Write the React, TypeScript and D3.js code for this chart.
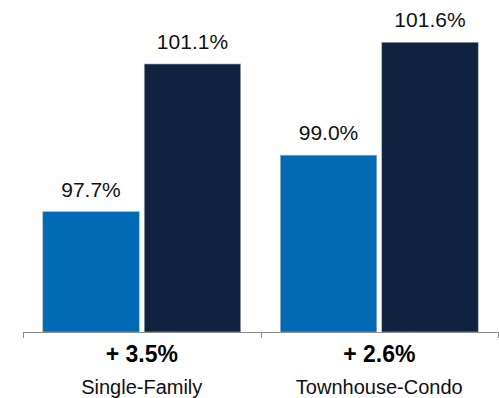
import React from "react";
import * as d3 from "d3";

const categories = ["Single-Family", "Townhouse-Condo"];
const series = ["prior", "current"];
const priorValues = [97.7, 99.0];
const currentValues = [101.1, 101.6];
const changeLabels = ["+ 3.5%", "+ 2.6%"];
const seriesColors = ["#006ab4", "#0f2340"];

const W = 499;
const H = 398;
const FONT = "'Liberation Sans', Arial, Helvetica, sans-serif";

export default function App() {
  const baseY = 332;
  const x0 = d3.scaleBand<string>().domain(categories).range([23, 498]).padding(0);
  const x1 = d3
    .scaleBand<string>()
    .domain(series)
    .range([0, x0.bandwidth()])
    .paddingInner(0.049)
    .paddingOuter(0.195);
  const y = d3.scaleLinear().domain([94.93, 102]).range([baseY, baseY - 7.07 * 43.44]);

  const rows = categories.map((c, i) => ({
    cat: c,
    vals: [priorValues[i], currentValues[i]],
    change: changeLabels[i],
  }));

  const fmt = (v: number) => d3.format(".1f")(v) + "%";

  return (
    <div style={{ position: "absolute", left: 0, top: 0, width: W, height: H, background: "#fff" }}>
      <svg width={W} height={H} style={{ display: "block" }} fontFamily={FONT}>
        {rows.map((r) => {
          const gx = x0(r.cat)!;
          return (
            <g key={r.cat}>
              {r.vals.map((v, j) => {
                const bx = gx + x1(series[j])!;
                const by = y(v);
                return (
                  <g key={j}>
                    <rect
                      x={bx}
                      y={by}
                      width={x1.bandwidth()}
                      height={baseY - by}
                      fill={seriesColors[j]}
                      stroke="#aab3c0"
                      strokeWidth={0.6}
                    />
                    <text
                      x={bx + x1.bandwidth() / 2}
                      y={by - 15}
                      textAnchor="middle"
                      fontSize={21}
                      fill="#111"
                    >
                      {fmt(v)}
                    </text>
                  </g>
                );
              })}
              <text
                x={gx + x0.bandwidth() / 2}
                y={362}
                textAnchor="middle"
                fontSize={23}
                fontWeight="bold"
                fill="#000"
              >
                {r.change}
              </text>
              <text
                x={gx + x0.bandwidth() / 2}
                y={394}
                textAnchor="middle"
                fontSize={20}
                fill="#111"
              >
                {r.cat}
              </text>
            </g>
          );
        })}
        <line x1={23} x2={498} y1={baseY + 0.5} y2={baseY + 0.5} stroke="#8c8c8c" strokeWidth={1} />
        {[...categories.map((c) => x0(c)!), 498].map((tx, i) => (
          <line
            key={i}
            x1={Math.round(tx) + 0.5}
            x2={Math.round(tx) + 0.5}
            y1={baseY}
            y2={baseY + 6}
            stroke="#8c8c8c"
            strokeWidth={1}
          />
        ))}
      </svg>
    </div>
  );
}
